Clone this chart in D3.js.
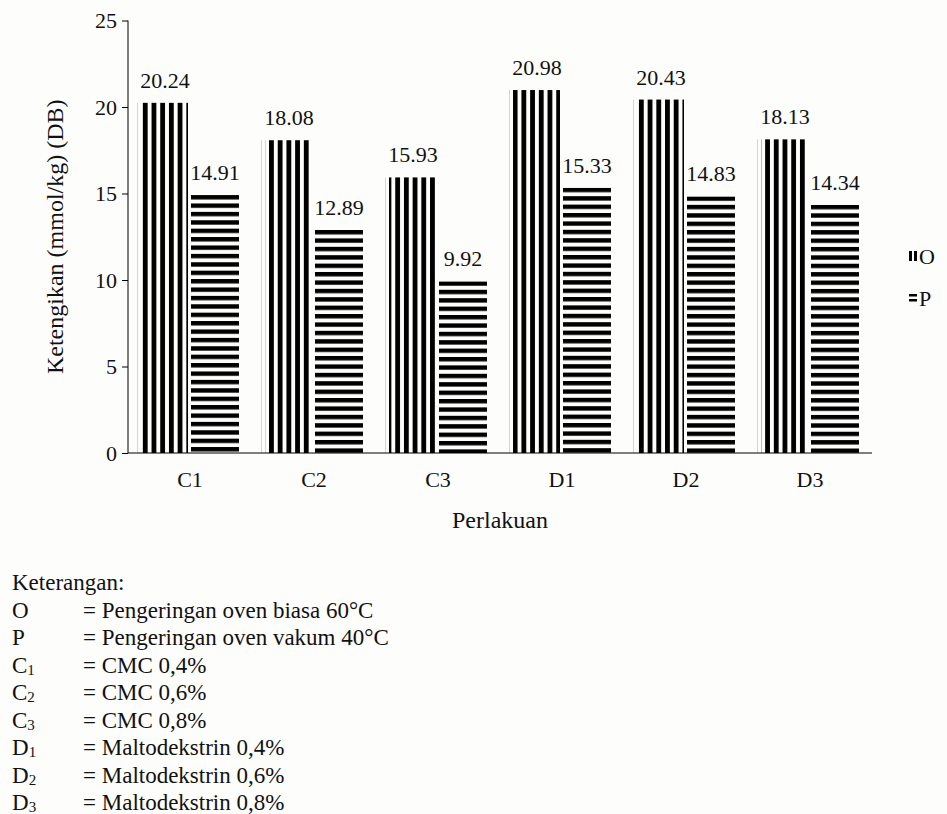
<!DOCTYPE html>
<html>
<head>
<meta charset="utf-8">
<script src="https://cdn.jsdelivr.net/npm/d3@7"></script>
<style>
  html, body { margin: 0; padding: 0; background: #fdfdfb; }
  svg { display: block; }
  svg text { font-family: "Liberation Serif", "Times New Roman", serif; }
</style>
</head>
<body>
<svg id="chart" width="947" height="814"></svg>
<script>
// Treatments and rancidity values (mmol/kg, dry basis)
const categories = ["C1", "C2", "C3", "D1", "D2", "D3"];
const seriesNames = ["O", "P"];
const valuesO = [20.24, 18.08, 15.93, 20.98, 20.43, 18.13];
const valuesP = [14.91, 12.89, 9.92, 15.33, 14.83, 14.34];
const yTicks = [0, 5, 10, 15, 20, 25];
const yTitle = "Ketengikan (mmol/kg) (DB)";
const xTitle = "Perlakuan";
const noteHeading = "Keterangan:";
const noteKeys = [["O", ""], ["P", ""], ["C", "1"], ["C", "2"], ["C", "3"], ["D", "1"], ["D", "2"], ["D", "3"]];
const noteTexts = [
  "= Pengeringan oven biasa 60°C",
  "= Pengeringan oven vakum 40°C",
  "= CMC 0,4%",
  "= CMC 0,6%",
  "= CMC 0,8%",
  "= Maltodekstrin 0,4%",
  "= Maltodekstrin 0,6%",
  "= Maltodekstrin 0,8%"
];

const SERIF = "Liberation Serif";
const svg = d3.select("#chart").attr("font-family", SERIF);
const plot = { left: 128, right: 872, top: 20.5, bottom: 453 };
const FS = 22;

const x = d3.scaleBand().domain(categories).range([plot.left, plot.right])
  .paddingInner(0.21).paddingOuter(0.105);
const xs = d3.scaleBand().domain(seriesNames).range([0, x.bandwidth()]).paddingInner(0.04);
const y = d3.scaleLinear().domain([0, 25]).range([plot.bottom, plot.top]);

const rows = categories.map((c, i) => ({ cat: c, O: valuesO[i], P: valuesP[i] }));
const defs = svg.append("defs");

// Per-bar stripe patterns, anchored to each bar's corner
const stripeV = { period: 8.7, ink: 4.8 };
const stripeH = { period: 8.4, ink: 4.4 };
rows.forEach((r, i) => {
  const xo = x(r.cat) + xs("O");
  const pv = defs.append("pattern").attr("id", "pv" + i)
    .attr("patternUnits", "userSpaceOnUse")
    .attr("x", xo).attr("y", 0).attr("width", stripeV.period).attr("height", 10);
  pv.append("rect").attr("x", 0).attr("y", 0).attr("width", stripeV.ink).attr("height", 10).attr("fill", "#000");
  const xp = x(r.cat) + xs("P");
  const ph = defs.append("pattern").attr("id", "ph" + i)
    .attr("patternUnits", "userSpaceOnUse")
    .attr("x", xp).attr("y", y(r.P)).attr("width", 10).attr("height", stripeH.period);
  ph.append("rect").attr("x", 0).attr("y", 0).attr("width", 10).attr("height", stripeH.ink).attr("fill", "#000");
});

// Bars
const groups = svg.append("g").selectAll("g").data(rows).join("g")
  .attr("transform", d => `translate(${x(d.cat)},0)`);
groups.append("rect")
  .attr("x", xs("O")).attr("y", d => y(d.O))
  .attr("width", xs.bandwidth() - 1).attr("height", d => y(0) - y(d.O))
  .attr("fill", (d, i) => `url(#pv${i})`);
groups.append("line")
  .attr("x1", xs("O") - 3.5).attr("x2", xs("O") - 3.5)
  .attr("y1", d => y(d.O)).attr("y2", y(0))
  .attr("stroke", "#d4d4d0").attr("stroke-width", 1);
groups.append("rect")
  .attr("x", xs("P")).attr("y", d => y(d.P))
  .attr("width", xs.bandwidth()).attr("height", d => y(0) - y(d.P))
  .attr("fill", (d, i) => `url(#ph${i})`);

// Value labels
groups.append("text")
  .attr("x", xs("O") + xs.bandwidth() / 2).attr("y", d => y(d.O) - 15)
  .attr("text-anchor", "middle").attr("font-family", SERIF).attr("font-size", FS).attr("fill", "#111")
  .text(d => d.O.toFixed(2));
groups.append("text")
  .attr("x", xs("P") + xs.bandwidth() / 2).attr("y", d => y(d.P) - 15)
  .attr("text-anchor", "middle").attr("font-family", SERIF).attr("font-size", FS).attr("fill", "#111")
  .text(d => d.P.toFixed(2));

// Y axis
const yAxis = svg.append("g").attr("transform", `translate(${plot.left},0)`)
  .call(d3.axisLeft(y).tickValues(yTicks).tickSize(6).tickPadding(5).tickFormat(d3.format("d")));
yAxis.attr("font-family", SERIF);
yAxis.select(".domain").attr("d", `M0,${plot.top}V${plot.bottom}`).attr("stroke", "#000");
yAxis.selectAll(".tick line").attr("stroke", "#000");
yAxis.selectAll("text").attr("font-size", FS).attr("font-family", SERIF).attr("fill", "#111");

// X axis
const xAxis = svg.append("g").attr("transform", `translate(0,${plot.bottom})`)
  .call(d3.axisBottom(x).tickSize(0).tickPadding(18));
xAxis.attr("font-family", SERIF);
xAxis.select(".domain").attr("d", `M${plot.left},0H${plot.right}`).attr("stroke", "#000");
xAxis.selectAll("text").attr("font-size", FS).attr("font-family", SERIF).attr("fill", "#111");

// Axis titles
svg.append("text")
  .attr("transform", `translate(55,${(plot.top + plot.bottom) / 2}) rotate(-90)`)
  .attr("text-anchor", "middle").attr("dy", "0.35em").attr("font-family", SERIF)
  .attr("font-size", 24).attr("fill", "#111")
  .text(yTitle);
svg.append("text")
  .attr("x", (plot.left + plot.right) / 2).attr("y", 520).attr("dy", "0.35em")
  .attr("text-anchor", "middle").attr("font-family", SERIF).attr("font-size", 24).attr("fill", "#111")
  .text(xTitle);

// Legend
const legend = svg.append("g").attr("transform", "translate(909,0)");
const legY = { O: 256, P: 298 };
legend.append("rect").attr("x", 0).attr("y", legY.O - 5).attr("width", 3).attr("height", 10).attr("fill", "#000");
legend.append("rect").attr("x", 5).attr("y", legY.O - 5).attr("width", 3).attr("height", 10).attr("fill", "#000");
legend.append("rect").attr("x", 0).attr("y", legY.P - 4).attr("width", 8).attr("height", 2.5).attr("fill", "#000");
legend.append("rect").attr("x", 0).attr("y", legY.P + 1).attr("width", 8).attr("height", 2.5).attr("fill", "#000");
seriesNames.forEach(s => {
  legend.append("text").attr("x", 10).attr("y", legY[s]).attr("dy", "0.35em")
    .attr("font-family", SERIF).attr("font-size", FS).attr("fill", "#111").text(s);
});

// Notes below the chart
const notes = svg.append("g").attr("font-family", SERIF).attr("font-size", 23).attr("fill", "#111");
notes.append("text").attr("x", 12).attr("y", 582).attr("dy", "0.35em").text(noteHeading);
noteKeys.forEach((k, i) => {
  const yy = 609.5 + i * 27.5;
  const t = notes.append("text").attr("x", 12).attr("y", yy).attr("dy", "0.35em");
  t.append("tspan").text(k[0]);
  if (k[1]) t.append("tspan").attr("font-size", 15).attr("dy", "0.15em").text(k[1]);
  notes.append("text").attr("x", 83).attr("y", yy).attr("dy", "0.35em").text(noteTexts[i]);
});
</script>
</body>
</html>
